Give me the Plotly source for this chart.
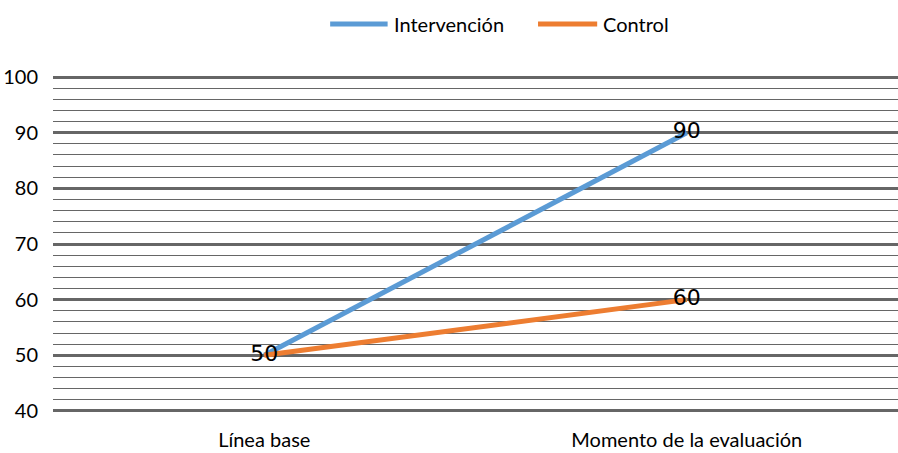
import plotly.graph_objects as go

# Data
categories = ["Línea base", "Momento de la evaluación"]
series_names = ["Intervención", "Control"]
intervencion = [50, 90]
control = [50, 60]
series_values = [intervencion, control]
series_colors = ["#5B9BD5", "#ED7D31"]
point_labels = [["50", "90"], ["", "60"]]

narrow = "Liberation Sans Narrow, Lato, sans-serif"
label_font = "DejaVu Sans, Arial, sans-serif"

fig = go.Figure()
for name, vals, color in zip(series_names, series_values, series_colors):
    fig.add_trace(go.Scatter(
        x=categories, y=vals, name=name, mode="lines",
        line=dict(color=color, width=5), showlegend=False,
    ))

# Value labels on top of both lines
for vals, labels in zip(series_values, point_labels):
    fig.add_trace(go.Scatter(
        x=categories, y=vals, mode="text",
        text=labels, textposition="middle center",
        textfont=dict(family=label_font, size=22, color="#000000"),
        cliponaxis=False, showlegend=False, hoverinfo="skip",
    ))

# Legend drawn as wide swatches with text
legend_x = [(0.328, 0.396, 0.401), (0.574, 0.644, 0.648)]
for (x0, x1, xt), name, color in zip(legend_x, series_names, series_colors):
    fig.add_shape(type="line", xref="paper", yref="paper", x0=x0, x1=x1, y0=1.155, y1=1.155,
                  line=dict(color=color, width=5))
    fig.add_annotation(xref="paper", yref="paper", x=xt, y=1.155, text=name, showarrow=False,
                       xanchor="left", yanchor="middle",
                       font=dict(family=narrow, size=20, color="#000000"))

fig.update_layout(
    width=898, height=453,
    margin=dict(l=53, r=0, t=76, b=41),
    paper_bgcolor="white", plot_bgcolor="white",
    showlegend=False,
    font=dict(family=narrow, size=20, color="#000000"),
)
fig.update_xaxes(
    type="category", range=[-0.5, 1.5],
    showgrid=False, zeroline=False, showline=False,
    ticks="", ticklabelstandoff=14,
    tickfont=dict(family=narrow, size=20, color="#000000"),
)
fig.update_yaxes(
    range=[39.8, 100.2], tickvals=[40, 50, 60, 70, 80, 90, 100],
    showgrid=True, gridcolor="#666666", gridwidth=3,
    minor=dict(dtick=2, tick0=0, showgrid=True, gridcolor="#666666", gridwidth=1),
    zeroline=False, showline=False, ticks="", ticklabelstandoff=14,
    tickfont=dict(family=narrow, size=20, color="#000000"),
)

fig.write_html("out.html")
